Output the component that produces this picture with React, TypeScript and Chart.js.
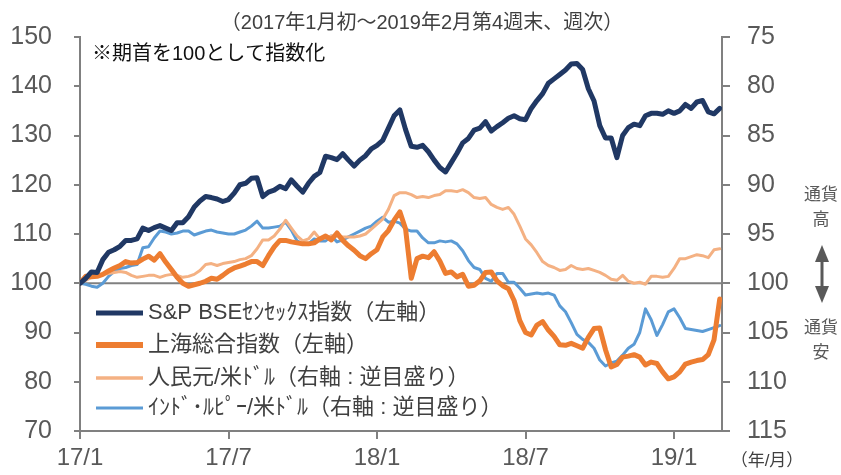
import React, { useEffect, useRef } from "react";
import { Chart, registerables } from "chart.js";

Chart.register(...registerables);

// ---- data (weekly, 2017/1 first week .. 2019/2 4th week) ----
const sensex = [
  100, 101, 102.3, 102.2, 104.8, 106.3, 106.8, 107.5, 108.7, 108.7,
  109, 111.2, 110.7, 111.3, 111.7, 111.2, 110.7, 112.3, 112.3, 113.5,
  115.5, 116.7, 117.6, 117.4, 117.1, 116.6, 117, 118.3, 120, 120.3,
  121.3, 121.4, 117.6, 118.5, 118.9, 119.7, 119.2, 121, 119.7, 118.5,
  120.3, 121.7, 122.5, 125.8, 125.5, 125.1, 126.3, 125, 123.8, 125,
  125.9, 127.3, 128, 129, 131.5, 134, 135.2, 131.2, 127.8, 127.6,
  128, 126.7, 125, 123.5, 122.6, 124.5, 126.4, 128.5, 129.4, 131.1,
  131.5, 132.8, 130.9, 131.8, 132.6, 133.5, 134, 133.4, 133.2, 135.5,
  137.1, 138.5, 140.6, 141.5, 142.4, 143.3, 144.5, 144.6, 143.4, 139.5,
  137, 132, 129.5, 129.5, 125.5, 130, 131.6, 132.3, 132, 134,
  134.5, 134.5, 134.3, 135, 134.5, 135, 136.3, 135.5, 136.8, 137.1,
  134.8, 134.4, 135.5,
];
const shanghai = [
  100, 101.4, 101.3, 101.4, 101.8, 102.5, 103.1, 103.6, 104.4, 104.1,
  104.2, 104.9, 105.5, 104.7, 106, 104.3, 102.8, 101.2, 100, 99.4,
  99.7, 100, 100.4, 101, 100.8, 101.6, 102.5, 103.1, 103.5, 103.9,
  104.4, 104.4, 103.6, 105.6, 107.4, 108.7, 108.7, 108.4, 108.2, 108,
  108, 108.2, 109, 109.6, 108.8, 110.2, 108.7, 107.6, 106.7, 105.6,
  105, 106, 106.8, 109.4, 110.7, 112.8, 114.5, 111, 101, 105,
  105.5, 105.2, 106.4, 104.5, 102, 102.3, 101.3, 101.8, 99.4, 99.6,
  100.5, 102.2, 102.3, 100.5, 99.5, 98.9, 96.5, 92.4, 90, 89.5,
  91.5, 92.2, 90.5, 89.2, 87.5, 87.4, 87.8, 87.3, 86.8, 89,
  90.8, 90.9, 86.5, 83, 83.5, 85, 85.2, 85.5, 85, 83.4,
  84, 83.7, 82, 80.6, 81, 82, 83.6, 84, 84.3, 84.5,
  85.5, 88.5, 96.8,
];
const cnyUsd = [
  100, 99.7, 99.4, 99.2, 99.1, 99, 98.9, 98.8, 98.9, 99.2,
  99.4, 99.3, 99.2, 99.2, 99.4, 99.2, 99.1, 99.2, 99.4, 99.3,
  99.1, 98.7, 98.1, 98, 98.2, 98, 97.9, 97.8, 97.6, 97.5,
  97.2, 96.5, 95.6, 95.6, 95.2, 94.5, 93.6, 94.4, 95.2, 95.7,
  95.5, 94.8, 95.5, 95.4, 95.2, 95.2, 95.3, 95.3, 95.3, 95.2,
  95, 94.5, 94, 93.5, 92.5, 91.1, 90.8, 90.8, 91, 91.3,
  91.2, 91.3, 91.1, 91, 90.6, 90.6, 90.7, 90.5, 90.8, 91.3,
  91.4, 91.3, 92, 92.3, 92.5, 92.3, 93, 94.2, 95.5, 96.1,
  96.9, 97.8, 98.2, 98.4, 98.7, 98.6, 98.2, 98.5, 98.6, 98.5,
  98.7, 98.9, 99.2, 99.6, 99.7, 99.2, 99.8, 100, 99.9, 100.1,
  99.3, 99.3, 99.4, 99.3, 98.5, 97.5, 97.5, 97.3, 97.1, 97.2,
  97.4, 96.6, 96.5,
];
const inrUsd = [
  100, 100.1, 100.3, 100.4, 100, 99.3, 98.8, 98.5, 98.4, 98.2,
  98.1, 96.4, 96.3, 95.4, 94.7, 94.8, 95, 94.9, 94.7, 94.7,
  95.1, 94.9, 94.7, 94.6, 94.8, 94.9, 95, 95, 94.8, 94.6,
  94.2, 93.7, 94.4, 94.4, 94.3, 94.2, 93.8, 94.6, 95.7, 96,
  96, 95.5, 95.7, 95.7, 95.2, 95.8, 95.6, 95.3, 95, 94.7,
  94.4, 94.2, 93.7, 93.3, 93.8, 93.7, 93.9, 94.5, 94.7, 94.7,
  95.4, 95.9, 95.9, 95.7, 95.8, 95.7, 96, 96.7, 97.7, 98.4,
  98.6, 99.5, 99.8, 99, 99, 99.9, 99.9, 100.5, 101.2, 101.1,
  101, 101.1, 101, 101.2, 102.3, 102.9, 104, 105.2, 105.7, 106,
  106.6, 107.8, 108.4, 108.1, 107.9, 107.3, 106.6, 106.2, 105, 102.6,
  103.7, 105.3, 104.2, 102.9, 102.6, 103.5, 104.6, 104.7, 104.8, 104.9,
  104.7, 104.5, 104.3,
];

const seriesLabels = [
  "S&P BSEｾﾝｾｯｸｽ指数（左軸）",
  "上海総合指数（左軸）",
  "人民元/米ﾄﾞﾙ（右軸 : 逆目盛り）",
  "ｲﾝﾄﾞ･ﾙﾋﾟｰ/米ﾄﾞﾙ（右軸 : 逆目盛り）",
];
const xTickWeeks = [0, 26, 52, 78, 104];
const xTickLabels = ["17/1", "17/7", "18/1", "18/7", "19/1"];
const titleText = "（2017年1月初～2019年2月第4週末、週次）";
const noteText = "※期首を100として指数化";
const unitText = "（年/月）";

const FONT = "'Liberation Sans', Arial, 'Noto Sans CJK JP', sans-serif";
const GRAY_TEXT = "#595959";
const AXIS = "#808080";

const colors = ["#203864", "#ED7D31", "#F4B183", "#5B9BD5"];
const widths = [5, 5, 3, 3];

const overlay = {
  id: "overlay",
  beforeDatasetsDraw(chart: any) {
    const { ctx, chartArea } = chart;
    const y = chart.scales.y.getPixelForValue(100);
    ctx.save();
    ctx.strokeStyle = AXIS;
    ctx.lineWidth = 2;
    ctx.beginPath();
    ctx.moveTo(chartArea.left, y);
    ctx.lineTo(chartArea.right, y);
    ctx.stroke();
    ctx.restore();
  },
  afterDraw(chart: any) {
    const { ctx } = chart;
    ctx.save();
    ctx.textBaseline = "middle";
    // title
    ctx.fillStyle = "#404040";
    ctx.font = `20px ${FONT}`;
    ctx.textAlign = "center";
    ctx.fillText(titleText, 422, 23);
    // note
    ctx.fillStyle = "#111111";
    ctx.font = `20px ${FONT}`;
    ctx.textAlign = "left";
    ctx.fillText(noteText, 92, 54);
    // legend
    const rows = [313, 345, 378, 408];
    chart.data.datasets.forEach((ds: any, i: number) => {
      ctx.strokeStyle = ds.borderColor;
      ctx.lineWidth = [5, 6, 3.5, 3][i];
      ctx.beginPath();
      ctx.moveTo(96, rows[i]);
      ctx.lineTo(143, rows[i]);
      ctx.stroke();
      ctx.fillStyle = "#404040";
      ctx.font = `22px ${FONT}`;
      ctx.fillText(ds.label, 148, rows[i]);
    });
    // unit
    ctx.fillStyle = "#404040";
    ctx.font = `17px ${FONT}`;
    ctx.textAlign = "center";
    ctx.fillText(unitText, 767, 461);
    // currency annotation
    ctx.fillStyle = GRAY_TEXT;
    ctx.font = `17px ${FONT}`;
    ctx.fillText("通貨", 821, 195);
    ctx.fillText("高", 821, 220);
    ctx.fillText("通貨", 821, 328);
    ctx.fillText("安", 821, 353);
    // double arrow
    ctx.strokeStyle = GRAY_TEXT;
    ctx.lineWidth = 3;
    ctx.beginPath();
    ctx.moveTo(822, 258);
    ctx.lineTo(822, 290);
    ctx.stroke();
    ctx.beginPath();
    ctx.moveTo(822, 245);
    ctx.lineTo(815, 262);
    ctx.lineTo(829, 262);
    ctx.closePath();
    ctx.fill();
    ctx.beginPath();
    ctx.moveTo(822, 303);
    ctx.lineTo(815, 286);
    ctx.lineTo(829, 286);
    ctx.closePath();
    ctx.fill();
    ctx.restore();
  },
};

export default function App() {
  const ref = useRef<HTMLCanvasElement | null>(null);
  useEffect(() => {
    if (!ref.current) return;
    const weeks = sensex.map((_, i) => i);
    const all = [sensex, shanghai, cnyUsd, inrUsd];
    const chart = new Chart(ref.current, {
      type: "line",
      data: {
        labels: weeks,
        datasets: all.map((d, i) => ({
          label: seriesLabels[i],
          data: d,
          yAxisID: i < 2 ? "y" : "y2",
          borderColor: colors[i],
          backgroundColor: colors[i],
          borderWidth: widths[i],
          pointRadius: 0,
          tension: 0,
          fill: false,
          borderJoinStyle: "round" as const,
          borderCapStyle: "round" as const,
          order: i,
        })),
      },
      options: {
        responsive: false,
        animation: false,
        devicePixelRatio: 1,
        layout: { padding: { top: 34, left: 0, right: 0, bottom: 0 } },
        plugins: { legend: { display: false }, tooltip: { enabled: false }, title: { display: false } },
        scales: {
          x: {
            type: "linear",
            min: 0,
            max: 112.4,
            grid: { drawOnChartArea: false, drawTicks: true, tickLength: 8, color: AXIS, lineWidth: 2 },
            border: { display: true, color: AXIS, width: 2 },
            afterBuildTicks: (s: any) => {
              s.ticks = xTickWeeks.map((v) => ({ value: v }));
            },
            afterFit: (s: any) => {
              s.height = 44;
            },
            ticks: {
              autoSkip: false,
              maxRotation: 0,
              padding: 5,
              color: GRAY_TEXT,
              font: { size: 24, family: FONT },
              callback: (v: any) => {
                const k = xTickWeeks.indexOf(Number(v));
                return k >= 0 ? xTickLabels[k] : "";
              },
            },
          },
          y: {
            position: "left",
            min: 70,
            max: 150,
            grid: { drawOnChartArea: false, drawTicks: true, tickLength: 6, color: AXIS, lineWidth: 2 },
            border: { display: true, color: AXIS, width: 2 },
            afterFit: (s: any) => {
              s.width = 80;
            },
            ticks: { stepSize: 10, padding: 22, color: GRAY_TEXT, font: { size: 25, family: FONT } },
          },
          y2: {
            position: "right",
            reverse: true,
            min: 75,
            max: 115,
            grid: { drawOnChartArea: false, drawTicks: true, tickLength: 8, color: AXIS, lineWidth: 2 },
            border: { display: true, color: AXIS, width: 2 },
            afterFit: (s: any) => {
              s.width = 119;
            },
            ticks: { stepSize: 5, padding: 17, color: GRAY_TEXT, font: { size: 25, family: FONT } },
          },
        },
      },
      plugins: [overlay],
    });
    return () => chart.destroy();
  }, []);
  return (
    <div style={{ position: "absolute", left: 0, top: 0, width: 841, height: 475, background: "#fff" }}>
      <canvas ref={ref} width={841} height={475} style={{ width: 841, height: 475, display: "block" }} />
    </div>
  );
}
